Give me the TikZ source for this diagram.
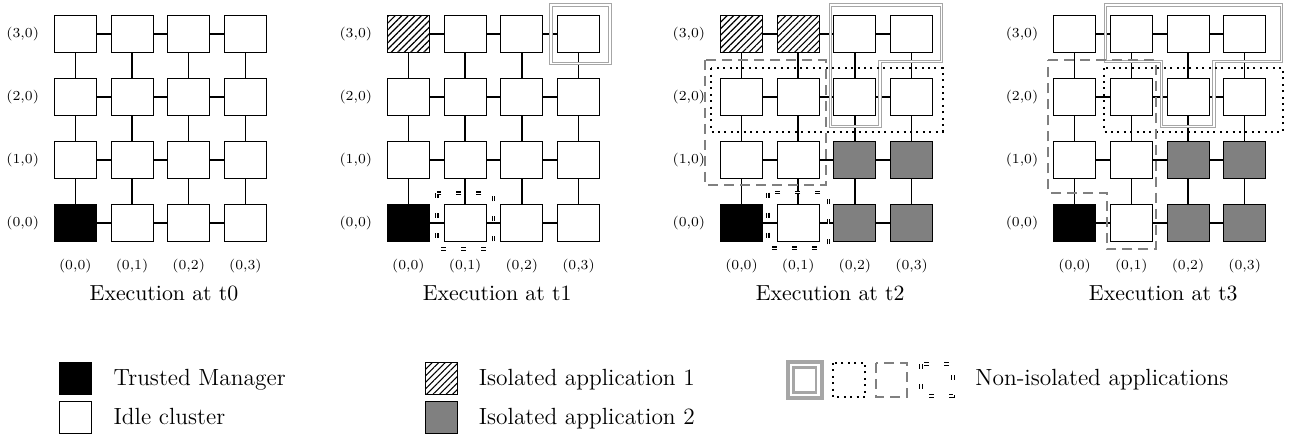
\documentclass[tikz,border=0pt]{standalone}
\usetikzlibrary{patterns.meta}
\makeatletter
\def\defkind#1#2{\expandafter\def\csname kind@#1\endcsname{#2}}
\tikzset{kind/.code={\ifcsname kind@#1\endcsname
   \expandafter\expandafter\expandafter\pgfkeysalso\expandafter\expandafter\expandafter{\csname kind@#1\endcsname}\fi}}
\makeatother
% panel 0..3, row, col
\defkind{000}{tm}\defkind{100}{tm}\defkind{200}{tm}\defkind{300}{tm}
\defkind{130}{isoa}
\defkind{230}{isoa}\defkind{231}{isoa}
\defkind{212}{isob}\defkind{213}{isob}\defkind{202}{isob}\defkind{203}{isob}
\defkind{312}{isob}\defkind{313}{isob}\defkind{302}{isob}\defkind{303}{isob}
\begin{document}
\begin{tikzpicture}[x=0.5pt,y=-0.5pt,
  cell/.style={draw=black,line width=0.5pt,fill=white,minimum width=21pt,minimum height=18.75pt,inner sep=0pt},
  tm/.style={fill=black},
  isoa/.style={pattern={Lines[angle=45,distance=2.3pt,line width=0.55pt]}},
  isob/.style={fill=gray},
  link/.style={line width=0.75pt},
  lbl/.style={font=\fontsize{6.9}{8}\selectfont,inner sep=0pt},
  ttl/.style={font=\fontsize{10.9}{12}\selectfont,inner sep=0pt},
  leg/.style={font=\fontsize{11.7}{14}\selectfont,inner sep=0pt,anchor=base west},
  legbox/.style={draw=black,line width=0.5pt,minimum width=16pt,minimum height=16pt,inner sep=0pt},
  dbl/.style={draw=gray!70,line width=0.5pt,double=white,double distance=0.7pt},
  dots/.style={draw=black,line width=1pt,dash pattern=on 1pt off 2.2pt},
  gdash/.style={draw=gray,line width=1pt,dash pattern=on 5pt off 3pt},
  ddash/.style={draw=black,line width=0.6pt,double=white,double distance=0.6pt,dash pattern=on 2.5pt off 7.5pt},
]
\useasboundingbox (0,0) rectangle (1291,437);
% cells
\foreach \p in {0,...,3}{
  \foreach \r in {0,...,3}{
    \foreach \c in {0,...,3}{
      \node[cell,kind=\p\r\c] (n\p-\r-\c) at ({75.3+56.7*\c+333.1*\p},{222.9-63*\r}) {};
    }
    \node[lbl] (rl\p-\r) at ({22.7+333.1*\p},{222.9-63*\r}) {(\r,0)};
  }
  \foreach \c in {0,...,3}{
    \node[lbl] (cl\p-\c) at ({75.3+56.7*\c+333.1*\p},265.7) {(0,\c)};
  }
  \node[ttl] (t\p) at ({164+333.1*\p},293) {Execution at t\p};
  % links
  \foreach \r in {0,...,3}{
    \foreach \c [evaluate=\c as \cn using int(\c+1)] in {0,1,2}{
      \draw[link] (n\p-\r-\c) -- (n\p-\r-\cn);
    }
  }
  \foreach \r [evaluate=\r as \rn using int(\r+1)] in {0,1,2}{
    \foreach \c in {0,...,3}{
      \draw[link] (n\p-\r-\c) -- (n\p-\rn-\c);
    }
  }
}
% ---- panel t1 annotations
\draw[dbl] (551,5) rectangle (610,63.6);
\draw[ddash] (436.7,193.3) rectangle (493.3,249);
% ---- panel t2 annotations
\draw[dbl] (830.7,5) -- (941.6,5) -- (941.6,61.6) -- (880,61.6) -- (880,126.6) -- (830.7,126.6) -- cycle;
\draw[dots] (711,68.3) rectangle (942.7,131.7);
\draw[gdash] (705,60) rectangle (825.7,185);
\draw[ddash] (767.7,192.7) rectangle (828.3,248.3);
% ---- panel t3 annotations
\draw[dbl] (1105.7,5) -- (1281.6,5) -- (1281.6,61.6) -- (1214,61.6) -- (1214,126.6) -- (1161.7,126.6) -- (1161.7,61.6) -- (1105.7,61.6) -- cycle;
\draw[dots] (1104,68.3) rectangle (1282.7,131.7);
\draw[gdash] (1048.3,60) -- (1155.7,60) -- (1155.7,249.3) -- (1106.7,249.3) -- (1106.7,192.7) -- (1048.3,192.7) -- cycle;
% ---- legend
\node[legbox,fill=black] (lg-tm) at (75.5,379) {};
\node[legbox,fill=white] (lg-idle) at (75.5,418) {};
\node[leg] (lt-tm) at (113.3,386) {Trusted Manager};
\node[leg] (lt-idle) at (113.3,425) {Idle cluster};
\node[legbox,pattern={Lines[angle=45,distance=2.3pt,line width=0.55pt]}] (lg-a1) at (441.2,379) {};
\node[legbox,fill=gray] (lg-a2) at (441.2,418) {};
\node[leg] (lt-a1) at (478.5,386) {Isolated application 1};
\node[leg] (lt-a2) at (478.5,425) {Isolated application 2};
\draw[draw=gray!70,line width=2pt] (788,362) rectangle (821.5,398);
\draw[draw=gray!70,line width=1.1pt] (793.5,367.5) rectangle (816,392.5);
\draw[dots] (833,363) rectangle (865,397);
\draw[gdash] (876,363) rectangle (907,397);
\draw[ddash] (921,364) rectangle (953,396);
\node[leg] (lt-na) at (975,386) {Non-isolated applications};
\end{tikzpicture}
\end{document}
